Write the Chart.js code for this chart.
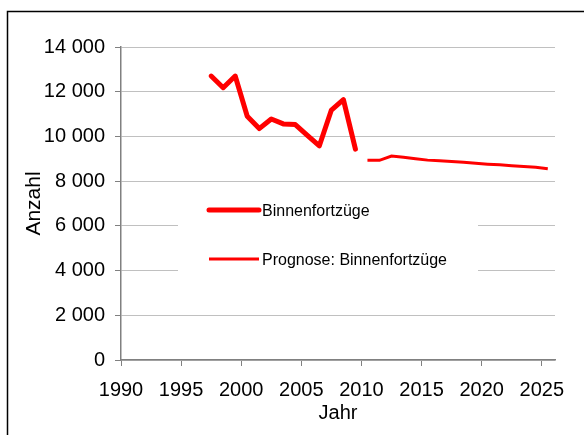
<!DOCTYPE html>
<html>
<head>
<meta charset="utf-8">
<script src="https://cdn.jsdelivr.net/npm/chart.js@4.4.1/dist/chart.umd.min.js"></script>
<style>
  html, body { margin: 0; padding: 0; background: #fff; }
  #wrap { position: relative; width: 584px; height: 435px; }
</style>
</head>
<body>
<div id="wrap"><canvas id="myChart"></canvas></div>
<script>
// Binnenfortzüge, Ist-Werte und Prognose (Werte jeweils zur Jahresmitte)
const histYears = [1997, 1998, 1999, 2000, 2001, 2002, 2003, 2004, 2005, 2006, 2007, 2008, 2009];
const histValues = [12700, 12180, 12700, 10900, 10350, 10780, 10560, 10530, 10050, 9580, 11180, 11650, 9430];

const progYears = [2010, 2011, 2012, 2013, 2014, 2015, 2016, 2017, 2018, 2019, 2020, 2021, 2022, 2023, 2024, 2025];
const progValues = [8930, 8930, 9120, 9070, 9000, 8940, 8910, 8880, 8840, 8800, 8760, 8730, 8690, 8650, 8620, 8550];

const xTicks = [1990, 1995, 2000, 2005, 2010, 2015, 2020, 2025];
const yTicks = [0, 2000, 4000, 6000, 8000, 10000, 12000, 14000];

const seriesNames = ["Binnenfortzüge", "Prognose: Binnenfortzüge"];

const midYear = (years, values) => years.map((y, i) => ({x: y + 0.5, y: values[i]}));
const fmt = v => String(v).replace(/\B(?=(\d{3})+(?!\d))/g, " ");

Chart.defaults.font.family = "'Liberation Sans', Arial, sans-serif";
Chart.defaults.color = "#000";

// outer frame
const frame = {
  id: 'frame',
  beforeDraw(chart) {
    const c = chart.ctx;
    c.save();
    c.strokeStyle = "#000";
    c.lineWidth = 1.5;
    c.strokeRect(7.5, 11.5, 800, 800);
    c.restore();
  }
};

// legend box inside the plot
const legendBox = {
  id: 'legendBox',
  afterDraw(chart) {
    const c = chart.ctx;
    c.save();
    c.fillStyle = "#fff";
    c.fillRect(178, 191, 300, 88);
    c.font = "16px 'Liberation Sans', Arial, sans-serif";
    c.textBaseline = "alphabetic";
    chart.data.datasets.forEach((ds, i) => {
      const y = 210 + i * 49;
      c.strokeStyle = ds.borderColor;
      c.lineWidth = ds.borderWidth;
      c.lineCap = ds.borderCapStyle || "butt";
      c.beginPath();
      c.moveTo(209, y);
      c.lineTo(259, y);
      c.stroke();
      c.fillStyle = "#000";
      c.fillText(ds.label, 262, y + 6);
    });
    c.restore();
  }
};

new Chart(document.getElementById('myChart'), {
  type: "line",
  data: {
    datasets: [{
      label: seriesNames[0],
      data: midYear(histYears, histValues),
      borderColor: "#ff0000",
      borderWidth: 5,
      borderJoinStyle: "round",
      borderCapStyle: "round",
      pointRadius: 0,
      tension: 0
    }, {
      label: seriesNames[1],
      data: midYear(progYears, progValues),
      borderColor: "#ff0000",
      borderWidth: 3,
      pointRadius: 0,
      tension: 0
    }]
  },
  options: {
    responsive: true,
    maintainAspectRatio: false,
    animation: false,
    layout: {padding: {left: 0, top: 47, right: 29, bottom: 0}},
    plugins: {
      legend: {display: false},
      tooltip: {enabled: false}
    },
    scales: {
      x: {
        type: "linear",
        min: 1990,
        max: 2026.1,
        afterBuildTicks: s => { s.ticks = xTicks.map(v => ({value: v})); },
        afterFit: s => { s.height = 75; },
        ticks: {
          font: {size: 20},
          padding: 12,
          maxRotation: 0,
          callback: v => String(v)
        },
        grid: {drawOnChartArea: false, drawTicks: true, tickLength: 6, tickColor: "#808080"},
        border: {color: "#808080", width: 1.5},
        title: {display: true, text: "Jahr", font: {size: 20}, padding: {top: 0, bottom: 10}}
      },
      y: {
        min: 0,
        max: 14000,
        afterBuildTicks: s => { s.ticks = yTicks.map(v => ({value: v})); },
        afterFit: s => { s.width = 121; },
        ticks: {
          font: {size: 20},
          padding: 10,
          callback: v => fmt(v)
        },
        grid: {color: "#c0c0c0", drawTicks: true, tickLength: 6, tickColor: "#808080"},
        border: {color: "#808080", width: 1.5},
        title: {display: true, text: "Anzahl", font: {size: 21}, padding: {top: 22, bottom: 0}}
      }
    }
  },
  plugins: [frame, legendBox]
});
</script>
</body>
</html>
